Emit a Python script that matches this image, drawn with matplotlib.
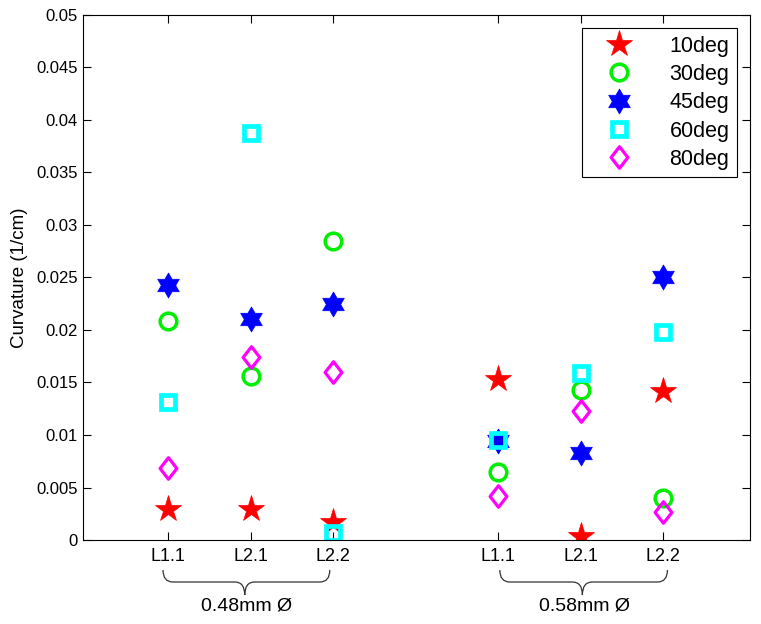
import numpy as np
import matplotlib
matplotlib.use("Agg")
import matplotlib.pyplot as plt
from matplotlib.path import Path
from matplotlib.patches import PathPatch
from matplotlib.transforms import blended_transform_factory
from matplotlib.ticker import FormatStrFormatter

plt.rcParams['font.family'] = ['Liberation Sans', 'DejaVu Sans']

# ---- data ----
tick_labels = ["L1.1", "L2.1", "L2.2", "L1.1", "L2.1", "L2.2"]
x_pos = [1, 2, 3, 5, 6, 7]
group_labels = ["0.48mm \u00d8", "0.58mm \u00d8"]
series_names = ["10deg", "30deg", "45deg", "60deg", "80deg"]
v10 = [0.0030, 0.0030, 0.0017, 0.0153, 0.0004, 0.0142]
v30 = [0.0209, 0.0156, 0.0285, 0.0065, 0.0143, 0.0040]
v45 = [0.0243, 0.0210, 0.0225, 0.0094, 0.0083, 0.0250]
v60 = [0.0131, 0.0388, 0.0007, 0.0095, 0.0159, 0.0198]
v80 = [0.0069, 0.0174, 0.0160, 0.0042, 0.0123, 0.0027]

# custom markers
ang = np.pi / 2 + np.arange(12) * np.pi / 6
rad = np.where(np.arange(12) % 2 == 0, 1.0, 0.577)
hex_verts = np.column_stack([rad * np.cos(ang), rad * np.sin(ang)])
hexagram = Path(np.vstack([hex_verts, hex_verts[:1]]), closed=True)
diamond = Path([(0, 1), (0.78, 0), (0, -1), (-0.78, 0), (0, 1)], closed=True)

fig = plt.figure(figsize=(7.61, 6.24), dpi=100)
ax = fig.add_axes([0.109, 0.1346, 0.8765, 0.8414])

ax.plot(x_pos, v10, linestyle='none', marker='*', ms=20, mfc='red', mec='red', mew=0.5, label=series_names[0])
ax.plot(x_pos, v30, linestyle='none', marker='o', ms=12, mfc='none', mec='#00ee00', mew=2.5, label=series_names[1])
ax.plot(x_pos, v45, linestyle='none', marker=hexagram, ms=18, mfc='blue', mec='blue', mew=0.5, label=series_names[2])
ax.plot(x_pos, v60, linestyle='none', marker='s', ms=10.5, mfc='none', mec='cyan', mew=3.4, label=series_names[3])
ax.plot(x_pos, v80, linestyle='none', marker=diamond, ms=15.5, mfc='none', mec='magenta', mew=2.3, label=series_names[4])

ax.set_xlim(-0.03, 8.05)
ax.set_ylim(0, 0.05)
ax.set_yticks(np.arange(0, 0.0501, 0.005))
ax.yaxis.set_major_formatter(FormatStrFormatter('%g'))
ax.set_xticks(x_pos)
ax.set_xticklabels(tick_labels)
ax.tick_params(direction='in', length=6, width=0.8, top=True, right=True,
               labelsize=12, colors='black')
ax.tick_params(axis='x', labelsize=13, pad=6)
for s in ax.spines.values():
    s.set_linewidth(0.8)
ax.set_ylabel("Curvature (1/cm)", fontsize=13.5, labelpad=6)

leg = ax.legend(loc='upper right', bbox_to_anchor=(0.9805, 0.975), borderaxespad=0,
                numpoints=1, fontsize=15.5, fancybox=False, framealpha=1,
                edgecolor='black', labelspacing=0.34, handletextpad=1.0,
                borderpad=0.35, handlelength=2.7)
leg.get_frame().set_linewidth(0.8)

# braces
trans = blended_transform_factory(ax.transData, ax.transAxes)
def brace(x0, x1, xm, label):
    yt, ym, yb = -0.0571, -0.080, -0.1048
    d = 0.12
    verts = [(x0, yt), (x0, ym), (x0 + d, ym),
             (xm - d, ym),
             (xm, ym), (xm, yb),
             (xm, ym), (xm + d, ym),
             (x1 - d, ym),
             (x1, ym), (x1, yt)]
    codes = [Path.MOVETO, Path.CURVE3, Path.CURVE3,
             Path.LINETO,
             Path.CURVE3, Path.CURVE3,
             Path.CURVE3, Path.CURVE3,
             Path.LINETO,
             Path.CURVE3, Path.CURVE3]
    p = PathPatch(Path(verts, codes), fc='none', ec='#333333', lw=0.9,
                  transform=trans, clip_on=False)
    ax.add_patch(p)
    ax.text(xm + 0.02, -0.126, label, transform=trans, ha='center', va='center',
            fontsize=14, clip_on=False)

brace(0.94, 2.96, 1.93, group_labels[0])
brace(5.02, 7.05, 6.02, group_labels[1])

fig.savefig("out.png", dpi=100)
